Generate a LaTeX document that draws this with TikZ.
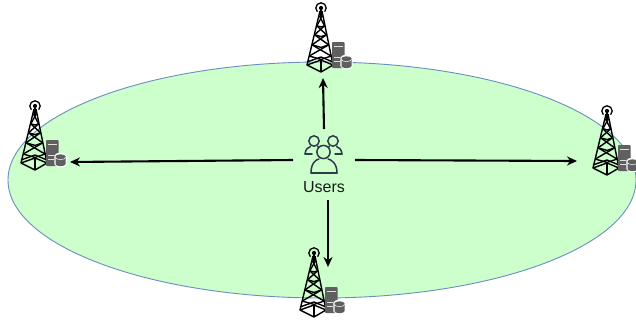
\documentclass[tikz,border=0pt]{standalone}
\usepackage{fontspec}
\setmainfont{Liberation Sans}
\usetikzlibrary{arrows.meta}
\definecolor{cellfill}{HTML}{CCFFCC}
\definecolor{cellline}{HTML}{6C8EBF}
\definecolor{srv}{HTML}{5F5F5F}
\definecolor{usericon}{HTML}{2F3B4C}
\tikzset{
  link/.style={line width=2.1pt,-{Stealth[length=10pt,width=9pt]}},
  towerline/.style={line width=1.4pt,black,line join=round},
  userline/.style={line width=1.5pt,usericon,line cap=round},
  pics/tower/.style={code={
    % antenna
    \draw[line width=1.3pt] (0,0) ++(135:5.2) arc[start angle=135,end angle=405,radius=5.2];
    \fill (0,0) circle[radius=2.1];
    % legs
    \draw[towerline] (-1,3) -- (-14,57) -- (0,64) -- (12,57) -- (1,3);
    \draw[towerline] (0,1) -- (0,10);
    \draw[towerline] (-14,57) -- (0,52) -- (12,57);
    \draw[towerline] (-14,54) -- (0,49) -- (12,54);
    \draw[towerline] (0,52) -- (0,64);
    % braces
    \foreach \a/\b in {0.12/0.30,0.30/0.46,0.46/0.64,0.64/0.84}{
      \draw[towerline] (-14*\a,1+56*\a) -- (12*\b,1+56*\b);
      \draw[towerline] (12*\a,1+56*\a) -- (-14*\b,1+56*\b);
      \draw[towerline] (-14*\b,1+56*\b) -- (0,1+60*\b) -- (12*\b,1+56*\b);
    }
    % server
    \fill[srv,rounded corners=0.8pt] (11,34) rectangle (23.5,60);
    \fill[white!80!srv] (13,37.5) rectangle (21.5,38.7);
    \fill[white!80!srv] (13,49) rectangle (19,50);
    \fill[white!80!srv] (13,52.5) rectangle (19,53.5);
    % database
    \fill[white] (19.3,47.5) -- (19.3,58) arc[x radius=6.2,y radius=3.2,start angle=180,end angle=0] -- (31.7,50) arc[x radius=6.2,y radius=3.2,start angle=0,end angle=-180] -- cycle;
    \fill[srv] (20.5,50.5) -- (20.5,58) arc[x radius=5,y radius=2.2,start angle=180,end angle=0] -- (30.5,50.5) -- cycle;
    \fill[srv] (25.5,50.5) ellipse[x radius=5,y radius=2.2];
    \draw[white,line width=0.5pt] (20.5,51.4) arc[x radius=5,y radius=2.2,start angle=180,end angle=0];
  }}
}
\begin{document}
\begin{tikzpicture}[x=1pt,y=-1pt]
  \useasboundingbox (0,0) rectangle (636,322);
  \fill[white] (0,0) rectangle (636,322);
  \draw[fill=cellfill,draw=cellline,line width=0.9pt] (322,180) ellipse[x radius=314,y radius=118];

  \pic at (321,8) {tower};
  \pic at (35,106) {tower};
  \pic at (607,111) {tower};
  \pic at (314,253) {tower};

  % users icon
  \draw[userline] (314,141) circle[radius=5.2];
  \draw[userline] (333,141) circle[radius=5.2];
  \draw[userline] (305,154) .. controls (305.5,149) and (308,147.5) .. (310.5,146.5);
  \draw[userline] (305,154) -- (312,154);
  \draw[userline] (317.5,146.5) -- (319,147.2);
  \draw[userline] (342,154) .. controls (341.5,149) and (339,147.5) .. (336.5,146.5);
  \draw[userline] (335,154) -- (342,154);
  \draw[userline] (329.5,146.5) -- (328,147.2);
  \draw[userline,fill=cellfill] (323.5,152) circle[radius=6.6];
  \draw[userline] (311,173) .. controls (311,163) and (316,159.5) .. (319,159);
  \draw[userline] (337,173) .. controls (337,163) and (331,159.5) .. (328,159);
  \draw[userline] (311,173) -- (337,173);
  \node[inner sep=0pt,font=\fontsize{16}{18}\selectfont,text=black!90] (users) at (324,187) {Users};

  \coordinate (upS) at (324,129);
  \coordinate (upE) at (323,78);
  \coordinate (leftS) at (293,160);
  \coordinate (leftE) at (70,162);
  \coordinate (rightS) at (355,160);
  \coordinate (rightE) at (577,161);
  \coordinate (downS) at (328,200);
  \coordinate (downE) at (328,267);
  \draw[link] (upS) -- (upE);
  \draw[link] (leftS) -- (leftE);
  \draw[link] (rightS) -- (rightE);
  \draw[link] (downS) -- (downE);
\end{tikzpicture}
\end{document}
